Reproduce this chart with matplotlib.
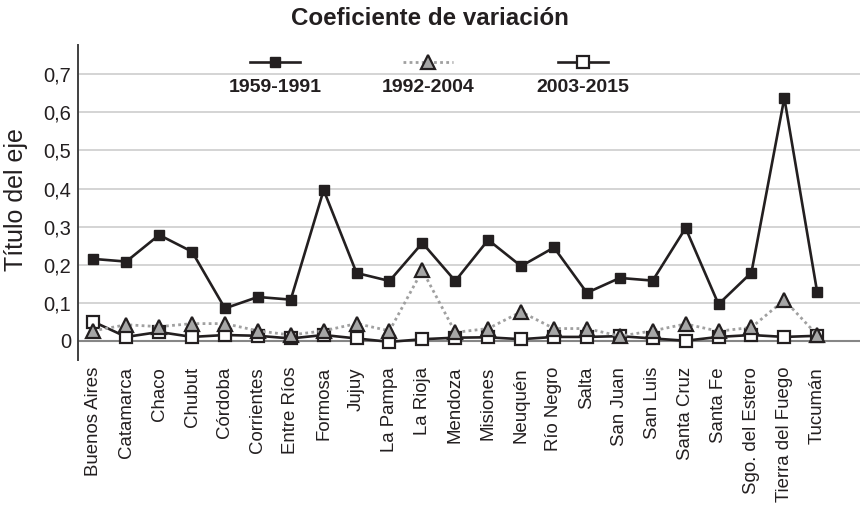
import matplotlib
matplotlib.use("Agg")
import matplotlib.pyplot as plt
from matplotlib import font_manager
from matplotlib.lines import Line2D

provincias = ["Buenos Aires", "Catamarca", "Chaco", "Chubut", "Córdoba", "Corrientes",
              "Entre Ríos", "Formosa", "Jujuy", "La Pampa", "La Rioja", "Mendoza",
              "Misiones", "Neuquén", "Río Negro", "Salta", "San Juan", "San Luis",
              "Santa Cruz", "Santa Fe", "Sgo. del Estero", "Tierra del Fuego", "Tucumán"]

cv_1959_1991 = [0.215, 0.208, 0.278, 0.234, 0.085, 0.115, 0.108, 0.396, 0.178, 0.157,
                0.257, 0.157, 0.265, 0.196, 0.245, 0.126, 0.165, 0.158, 0.296, 0.096,
                0.179, 0.638, 0.127]
cv_1992_2004 = [0.026, 0.042, 0.037, 0.045, 0.045, 0.026, 0.015, 0.026, 0.045, 0.026,
                0.185, 0.022, 0.032, 0.076, 0.032, 0.032, 0.012, 0.026, 0.044, 0.025,
                0.035, 0.107, 0.015]
cv_2003_2015 = [0.050, 0.010, 0.023, 0.010, 0.015, 0.013, 0.006, 0.015, 0.006, -0.003,
                0.004, 0.008, 0.009, 0.004, 0.010, 0.010, 0.012, 0.006, 0.000, 0.010,
                0.015, 0.010, 0.013]

y_ticks = [0, 0.1, 0.2, 0.3, 0.4, 0.5, 0.6, 0.7]
y_tick_labels = ["0", "0,1", "0,2", "0,3", "0,4", "0,5", "0,6", "0,7"]
series_names = ["1959-1991", "1992-2004", "2003-2015"]

installed = {f.name for f in font_manager.fontManager.ttflist}
narrow = "Liberation Sans Narrow" if "Liberation Sans Narrow" in installed else "Liberation Sans"
plt.rcParams["font.family"] = [narrow, "DejaVu Sans"]

dark = "#231f20"
tri_gray = "#a6a6a6"
dot_gray = "#a0a0a0"

fig = plt.figure(figsize=(8.6, 5.08), dpi=100)
ax = fig.add_axes([0.0907, 0.2913, 0.9093, 0.620])

x = list(range(len(provincias)))

style1 = dict(color=dark, lw=1.9, marker="s", ms=7.5, mfc=dark, mec=dark)
style2 = dict(color=dot_gray, lw=2.0, ls=(0, (1, 1.2)), marker="^", ms=9.5,
              mfc=tri_gray, mec=dark, mew=1.6)
style3 = dict(color=dark, lw=1.9, marker="s", ms=8, mfc="white", mec=dark, mew=1.6)

ax.plot(x, cv_1959_1991, zorder=4, **style1)
ax.plot(x, cv_2003_2015, zorder=5, **style3)
ax.plot(x, cv_1992_2004, zorder=6, **style2)

ax.set_xlim(-0.466, 23.3)
ax.set_ylim(-0.0507, 0.777)
ax.set_yticks(y_ticks)
ax.set_yticklabels(y_tick_labels, fontsize=14.5, color=dark)
ax.set_xticks(x)
ax.set_xticklabels(provincias, rotation=90, fontsize=13.4, color=dark, va="top")
ax.tick_params(axis="both", length=0)
ax.tick_params(axis="x", pad=5)
ax.tick_params(axis="y", pad=5)

for t in y_ticks[1:]:
    ax.axhline(t, color="#d4d4d4", lw=1.4, zorder=1)
ax.axhline(0, color="#868686", lw=1.5, zorder=2)

for s in ["top", "right", "bottom"]:
    ax.spines[s].set_visible(False)
ax.spines["left"].set_color("#404040")
ax.spines["left"].set_linewidth(1.4)

fig.text(0.5, 0.963, "Coeficiente de variación", ha="center", va="center",
         fontsize=17.4, fontweight="bold", color=dark)
fig.text(0.019, 0.608, "Título del eje", rotation=90, ha="center", va="center",
         fontsize=18, color=dark)

# legend: marker above each label
leg_x = [275 / 860, 428 / 860, 583 / 860]
half = 25 / 860
for cx, name, st in zip(leg_x, series_names, [style1, style2, style3]):
    fig.add_artist(Line2D([cx - half, cx, cx + half], [1 - 62 / 508] * 3,
                          markevery=[1], transform=fig.transFigure, **st))
    fig.text(cx, 1 - 88 / 508, name, ha="center", va="center", fontsize=14,
             fontweight="bold", color=dark)

fig.savefig("out.png", dpi=100)
